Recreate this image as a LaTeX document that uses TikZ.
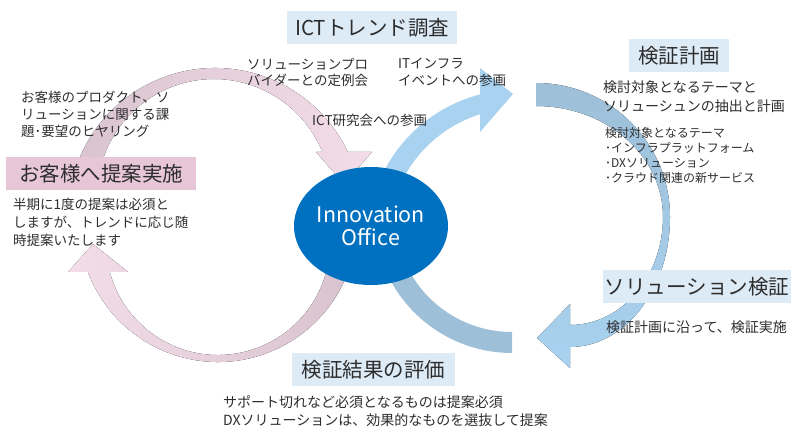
\documentclass[tikz,border=0pt]{standalone}
\usepackage{fontspec}
\setmainfont{Noto Sans CJK JP}
\usepackage{tikz}
\usetikzlibrary{shapes.geometric}

\definecolor{ioblue}{RGB}{0,112,192}
\definecolor{boxblue}{RGB}{221,235,247}
\definecolor{boxpink}{RGB}{231,198,215}
\definecolor{arrlight}{RGB}{168,210,240}
\definecolor{arrsteel}{RGB}{158,191,216}
\definecolor{pinkdark}{RGB}{216,195,206}
\definecolor{pinkpale}{RGB}{250,243,247}
\definecolor{pinkhead}{RGB}{243,221,233}
\definecolor{txtgray}{RGB}{45,45,45}

\tikzset{
  stage/.style={rectangle, inner sep=0pt, minimum height=33, text=txtgray,
    font=\fontsize{20.5}{24}\selectfont},
  memo/.style={anchor=north west, inner sep=0pt, align=left, text=txtgray,
    font=\fontsize{13.5}{17}\selectfont},
}

\begin{document}
\begin{tikzpicture}[x=1pt,y=-1pt]
\useasboundingbox (0,0) rectangle (800,438);

% pink arrows (left loop)
\fill[left color=pinkdark, middle color=pinkpale, right color=pinkhead]
  ([shift={(195.8:147)}]215,215) arc[start angle=195.8, end angle=334.6, radius=147]
  -- (372,152) -- (344,184) -- (316,152) -- (322.4,152)
  arc[start angle=337.9, end angle=190.3, radius=117] -- cycle;
\fill[left color=pinkhead, middle color=pinkpale, right color=pinkdark]
  ([shift={(16.3:139)}]218,223) arc[start angle=16.3, end angle=159.4, radius=139]
  -- (68,272) -- (93,244) -- (128,272) -- (109.8,272)
  arc[start angle=165, end angle=9.77, radius=112] -- cycle;

% blue arrows (right loop)
\fill[arrlight]
  ([shift={(200:132)}]520,240) arc[start angle=200, end angle=252.4, radius=132]
  -- (480,132) -- (513,94) -- (480,68) -- (480,94.4)
  arc[start angle=255.4, end angle=200, radius=151] -- cycle;
\fill[top color=arrsteel, bottom color=arrlight]
  (536,83) arc[start angle=270, end angle=360, radius=134]
  arc[start angle=0, end angle=90, x radius=100, y radius=130]
  -- (570,368) -- (537,338) -- (570,304) -- (570,325)
  arc[start angle=90, end angle=0, x radius=93, y radius=108]
  arc[start angle=0, end angle=-90, x radius=127, y radius=111] -- cycle;
\fill[arrsteel]
  (512,353) arc[start angle=90, end angle=160, radius=138]
  -- ([shift={(160:117)}]512,215) arc[start angle=160, end angle=90, radius=117] -- cycle;

\node[ellipse, fill=ioblue, minimum width=154, minimum height=118, inner sep=0pt,
  text=white, align=center, font=\fontsize{21.5}{23}\selectfont] (IO) at (371,226) {Innovation\\Office};

% stages
\node[stage, fill=boxblue, minimum width=170] (trend) at (372,28) {ICTトレンド調査};
\node[stage, fill=boxblue, minimum width=100] (plan) at (679,56) {検証計画};
\node[stage, fill=boxblue, minimum width=188] (verify) at (697,286.5) {ソリューション検証};
\node[stage, fill=boxblue, minimum width=163] (eval) at (373.5,369.5) {検証結果の評価};
\node[stage, fill=boxpink, minimum width=190] (offer) at (101,173.5) {お客様へ提案実施};

% notes
\node[memo, font=\fontsize{13.5}{16}\selectfont] (m1) at (247,58.3) {ソリューションプロ\\バイダーとの定例会};
\node[memo] (m2) at (398,57.3) {ITインフラ\\イベントへの参画};
\node[memo] (m3) at (312,114.3) {ICT研究会への参画};
\node[memo] (m4) at (21,91.3) {お客様のプロダクト、ソ\\リューションに関する課\\題･要望のヒヤリング};
\node[memo, font=\fontsize{13.5}{18}\selectfont] (m5) at (13,198) {半期に1度の提案は必須と\\しますが、トレンドに応じ随\\時提案いたします};
\node[memo, font=\fontsize{14}{19}\selectfont] (m6) at (603,80) {検討対象となるテーマと\\ソリューシュンの抽出と計画};
\node[memo, font=\fontsize{12}{15}\selectfont] (m7) at (605,127) {検討対象となるテーマ\\･インフラプラットフォーム\\･DXソリューション\\･クラウド関連の新サービス};
\node[memo, font=\fontsize{14}{18}\selectfont] (m8) at (606,321) {検証計画に沿って、検証実施};
\node[memo, font=\fontsize{14}{18}\selectfont] (m9) at (223,395) {サポート切れなど必須となるものは提案必須\\DXソリューションは、効果的なものを選抜して提案};
\end{tikzpicture}
\end{document}
